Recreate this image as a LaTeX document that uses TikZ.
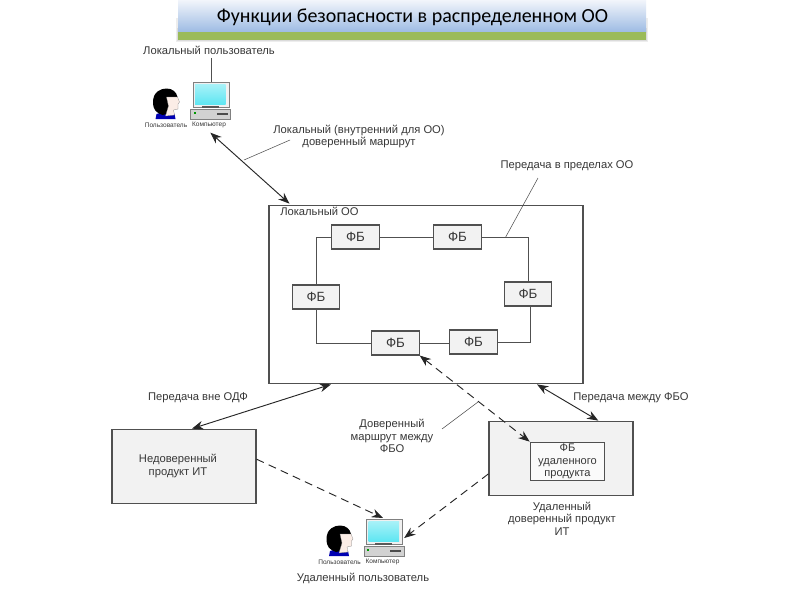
\documentclass[tikz,border=0pt]{standalone}
\usepackage{fontspec}
\setmainfont{Liberation Sans}
\newfontfamily\titlefont{Carlito}
\usetikzlibrary{arrows.meta,calc}
\definecolor{ln}{HTML}{505050}
\definecolor{tx}{HTML}{383838}
\definecolor{fillg}{HTML}{F2F2F2}
\definecolor{bantop}{HTML}{F2F5FB}
\definecolor{banbot}{HTML}{9DBBE3}
\definecolor{bangreen}{HTML}{9BBB59}
\definecolor{skin}{HTML}{FBEDE6}
\definecolor{scr}{HTML}{5FE6F2}
\tikzset{
  lab/.style={text=tx,align=center,inner sep=0pt,font=\fontsize{8.4pt}{9.4pt}\selectfont},
  tiny/.style={text=tx,inner sep=0pt,font=\fontsize{4.9pt}{5pt}\selectfont},
  box/.style={draw=ln,line width=.8pt,inner sep=0pt,align=center,text=tx},
  fb/.style={box,fill=fillg,minimum width=35.5pt,minimum height=18pt,font=\fontsize{10pt}{11pt}\selectfont},
  wire/.style={draw=ln,line width=.7pt},
  both/.style={draw=black!85,line width=.7pt,{Stealth[length=8.5pt,width=6.5pt]}-{Stealth[length=8.5pt,width=6.5pt]}},
  dashedarrow/.style={draw=black!85,line width=.7pt,dash pattern=on 6pt off 4pt,-{Stealth[length=8.5pt,width=6.5pt]}},
  dashedboth/.style={draw=black!85,line width=.7pt,dash pattern=on 6pt off 4pt,{Stealth[length=8.5pt,width=6.5pt]}-{Stealth[length=8.5pt,width=6.5pt]}},
  callout/.style={draw=ln,line width=.4pt},
  workstation/.pic={
    % person
    \fill[fill=blue!70!black] (-36,32) .. controls (-32,30) and (-22,30) .. (-18,32) -- (-17,37) -- (-37,37) -- cycle;
    \fill[fill=black] (-39.5,20) .. controls (-39.5,10) and (-32,6.5) .. (-26,6.5)
      .. controls (-20,6.5) and (-16,10) .. (-15,15) -- (-24,20)
      -- (-22,31) -- (-30,33) .. controls (-36,31) and (-39.5,28) .. (-39.5,20) -- cycle;
    \fill[fill=skin,draw=gray,line width=.2pt] (-26,15) -- (-15,15) -- (-13,20) -- (-14.5,22)
      -- (-14.5,27) -- (-19,28) -- (-18,33) -- (-27,34) -- (-24,24) -- cycle;
    % computer
    \node[draw=gray,line width=.8pt,fill=gray!12,minimum width=27pt,minimum height=19pt,inner sep=0pt,anchor=north west] (-mon) at (0,0) {};
    \shade[top color=scr!55!white,bottom color=scr] (2.5,2.5) rectangle (33,22);
    \fill[fill=black!65] (9,24) rectangle (26,26);
    \node[draw=gray,line width=.5pt,fill=gray!35,minimum width=30pt,minimum height=7.5pt,inner sep=0pt,anchor=north west] (-base) at (-2.5,27) {};
    \fill[green!60!black] (1,30) rectangle (3,32);
    \fill[black!70] (24,31) rectangle (35,33);
    \node[tiny] (-ulabel) at (-26.5,43) {Пользователь};
    \node[tiny] (-clabel) at (16.5,43) {Компьютер};
  }
}
\begin{document}
\begin{tikzpicture}[x=.75pt,y=-.75pt]
\useasboundingbox (0,0) rectangle (800,600);
\fill[white] (0,0) rectangle (800,600);

% title banner
\fill[black!7] (175.5,18) rectangle (648,42);
\fill[black!14] (176.5,28) rectangle (647,41.2);
\shade[top color=bantop,bottom color=banbot] (178,0) rectangle (646,32);
\fill[bangreen] (178,32) rectangle (646,40);
\node[inner sep=0pt,font=\titlefont\fontsize{15pt}{16pt}\selectfont,text=black] (title) at (412.5,17) {Функции безопасности в распределенном ОО};

% icons
\pic (lc) at (192.5,82) {workstation};
\pic (rc) at (366,519) {workstation};

% top labels
\node[lab] (lname) at (209,50) {Локальный пользователь};
\draw[draw=ln,line width=.6pt] ([yshift=-2.5pt]lname.south -| lc-mon.north) -- (lc-mon.north);
\node[lab] (rname) at (363,578) {Удаленный пользователь};

% large boxes
\node[box,minimum width=235.5pt,minimum height=134pt] (loc) at (426,294.5) {};
\node[lab,anchor=west] (locl) at (280,211) {Локальный ОО};
\node[box,fill=fillg,minimum width=108pt,minimum height=56pt] (untr) at (184,466.5) {};
\node[lab] (untrl) at (178,466) {Недоверенный\\продукт ИТ};
\node[box,fill=fillg,minimum width=108pt,minimum height=56pt] (rem) at (561,458.5) {};
\node[box,fill=white!60!fillg,minimum width=56pt,minimum height=29pt,font=\fontsize{8.3pt}{9.6pt}\selectfont] (remfb) at (567.5,461.5) {ФБ\\удаленного\\продукта};
\node[lab] (reml) at (562,518.5) {Удаленный\\доверенный продукт\\ИТ};

% FB blocks
\node[fb] (f1) at (355.5,237) {ФБ};
\node[fb] (f2) at (457.5,237) {ФБ};
\node[fb] (f3) at (316,297) {ФБ};
\node[fb] (f4) at (528,294) {ФБ};
\node[fb] (f5) at (395.5,343) {ФБ};
\node[fb] (f6) at (473.5,342) {ФБ};

\draw[wire] (f1) -- (f2);
\draw[wire] (f1.west) -| (f3.north);
\draw[wire] (f2.east) -| (f4.north);
\draw[wire] (f5.west) -| (f3.south);
\draw[wire] (f5.east) -- (f5.east -| f6.west);
\draw[wire] (f6.east) -| ([xshift=1.5pt]f4.south);

% arrows
\draw[both] ([shift={(0,13)}]lc-base.south) -- ([shift={(21,-1)}]loc.north west);
\draw[both] ([shift={(-95,0)}]loc.south) -- ([xshift=6pt]untr.north);
\draw[both] ([shift={(111,0)}]loc.south) -- ([xshift=28pt]rem.north);
\draw[dashedboth] (f5.south east) -- (remfb.north west);
\draw[dashedarrow] ([yshift=5.5pt]untr.east) -- ([shift={(17,-1)}]rc-mon.north west);
\draw[dashedarrow] ([yshift=-11.5pt]rem.west) -- ([shift={(0,-8)}]rc-base.north east);

% transfer labels
\node[lab] (t1) at (359,136.5) {Локальный (внутренний для ОО)\\доверенный маршрут};
\node[lab] (t2) at (567,166) {Передача в пределах ОО};
\node[lab] (t3) at (198,398) {Передача вне ОДФ};
\node[lab] (t4) at (631,398) {Передача между ФБО};
\node[lab] (t5) at (392,436) {Доверенный\\маршрут между\\ФБО};

\coordinate (c1a) at (244,160);
\coordinate (c1b) at (290,140);
\coordinate (c2a) at (538,178);
\coordinate (c3a) at (478,402);
\coordinate (c3b) at (442,429);
\draw[callout] (c1a) -- (c1b);
\draw[callout] (c2a) -- ([xshift=18pt]f2.east);
\draw[callout] (c3a) -- (c3b);
\end{tikzpicture}
\end{document}
